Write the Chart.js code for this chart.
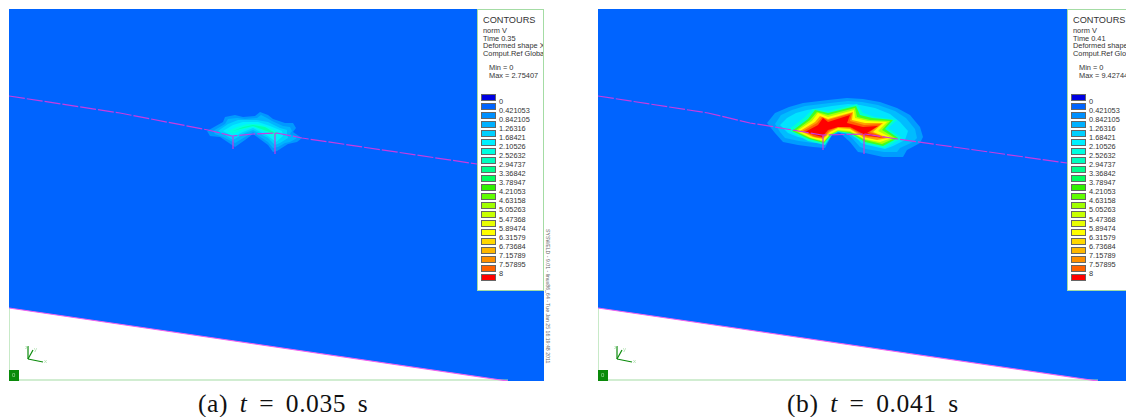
<!DOCTYPE html>
<html>
<head>
<meta charset="utf-8">
<script src="https://cdn.jsdelivr.net/npm/chart.js@4"></script>
<style>
  html, body { margin:0; padding:0; background:#fff; width:1126px; height:417px; overflow:hidden; }
  canvas { position:absolute; top:9px; }
  .panel { position:absolute; top:9px; height:280px; background:#fff; border:1px solid #a4dca4; overflow:hidden;
           font-family:"Liberation Sans",sans-serif; font-size:7.4px; line-height:9px; color:#333; }
  .panel div { position:absolute; white-space:nowrap; }
  .panel .title { font-size:9.2px; left:5px; top:5px; line-height:11px; }
  .swatch { width:13px; height:5px; left:3px; border:1px solid #666; }
  .caption { position:absolute; top:392px; font-family:"Liberation Serif",serif; font-size:25.5px; line-height:24px; color:#111;
             letter-spacing:0.6px; word-spacing:4.7px; white-space:nowrap; }
  .stamp { position:absolute; left:545px; top:229px; font-family:"Liberation Sans",sans-serif; font-size:5.2px; line-height:6px; color:#666;
           white-space:nowrap; transform-origin:0 0; transform:translate(6px,0) rotate(90deg); }
  .tag { position:absolute; font-family:"Liberation Sans",sans-serif; font-size:6px; line-height:7px; color:#a4dca4; }
</style>
</head>
<body>
<canvas id="chartA" width="535" height="372" style="left:9px"></canvas>
<canvas id="chartB" width="528" height="372" style="left:598px"></canvas>
<div class="panel" id="panelA" style="left:477px;width:65px"></div>
<div class="panel" id="panelB" style="left:1067px;width:60px"></div>
<div class="stamp">SYSWELD - 9.01 - linux86_64 - Tue Jan 25 16:19:48 2011</div>
<div class="tag" style="left:12px;top:372px">0</div>
<div class="tag" style="left:601px;top:372px">0</div>
<div class="tag" style="left:25px;top:344px">z</div>
<div class="tag" style="left:34px;top:346px">y</div>
<div class="tag" style="left:44px;top:358px">x</div>
<div class="tag" style="left:614px;top:344px">z</div>
<div class="tag" style="left:623px;top:346px">y</div>
<div class="tag" style="left:633px;top:358px">x</div>
<div class="caption" style="left:198px">(a) <i>t</i> = 0.035 s</div>
<div class="caption" style="left:787px">(b) <i>t</i> = 0.041 s</div>
<script>
const levelLabels = ["0","0.421053","0.842105","1.26316","1.68421","2.10526","2.52632","2.94737","3.36842","3.78947","4.21053","4.63158","5.05263","5.47368","5.89474","6.31579","6.73684","7.15789","7.57895","8"];
const levelColors = ["#0000e0","#0064ff","#0090ff","#00b0ff","#00d0ff","#00f0ff","#00ffe0","#00ffc0","#00ff90","#00ff60","#30f000","#60ff00","#a0ff00","#c8ff00","#e8ff00","#ffff00","#ffd800","#ffb800","#ff9000","#ff6000","#ff0000"];
const headerA = ["norm V","Time 0.35","Deformed shape X","Comput.Ref Global"];
const headerB = ["norm V","Time 0.41","Deformed shape X","Comput.Ref Global"];
const rangeA = ["Min = 0","Max = 2.75407"];
const rangeB = ["Min = 0","Max = 9.42744"];

// contour bands, outermost first
const bandColorsA = ["#0098ff","#00b4ff","#00d4ff","#00f0ff","#00ffe0","#00ffb0"];
const bandsA = [
  [[207,131],[223,122],[225,117],[235,115],[243,117],[255,116],[260,112],[268,115],[273,119],[285,123],[293,123],[296,128],[293,132],[302,138],[297,142],[288,144],[277,151],[273,152],[268,145],[253,134],[245,140],[235,147],[232,145],[220,137],[210,136]],
  [[213,131],[225,124],[228,119],[237,118],[245,119],[257,118],[261,115],[267,118],[272,121],[283,126],[290,127],[292,131],[290,134],[297,138],[290,142],[285,143],[278,147],[273,148],[268,142],[253,132],[245,137],[235,143],[223,137],[215,134]],
  [[218,131],[228,124],[238,120],[257,120],[268,122],[280,128],[287,130],[287,134],[288,138],[280,143],[275,145],[268,138],[253,130],[245,133],[233,140],[225,135]],
  [[223,131],[233,125],[243,122],[258,122],[270,126],[282,131],[283,136],[276,142],[268,136],[253,128],[243,132],[233,137],[227,133]],
  [[228,131],[237,127],[247,124],[258,124],[270,128],[278,132],[276,138],[268,133],[253,127],[242,130],[233,134]],
  [[233,131],[243,127],[253,125],[265,127],[275,133],[272,133],[253,126],[240,129]]
];
const bandColorsB = ["#009cff","#00bcff","#00e4ff","#00ffd0","#40ff20","#b0ff00","#ffff00","#ffa000","#ff6000","#ff0000"];
const bandsB = [
  [[767,123],[775,113],[789,107],[803,103],[828,100],[847,98],[863,99],[880,102],[897,108],[910,115],[920,127],[923,137],[920,143],[907,150],[903,157],[883,157],[865,153],[858,152],[850,142],[840,133],[832,135],[825,148],[813,147],[798,145],[783,142],[775,133]],
  [[775,124],[781,115],[792,110],[805,106],[830,103],[848,101],[862,102],[878,105],[895,111],[906,118],[915,129],[917,138],[913,142],[900,148],[897,152],[884,152],[866,149],[860,147],[852,138],[842,130],[832,131],[824,143],[813,143],[799,141],[785,138],[780,132]],
  [[780,125],[787,118],[796,113],[807,110],[832,106],[848,104],[860,105],[875,108],[890,114],[900,122],[908,131],[905,140],[893,146],[885,149],[867,145],[861,143],[853,134],[843,127],[832,128],[823,139],[812,140],[798,137],[788,133]],
  [[788,130],[805,117],[813,109],[828,111],[857,104],[863,113],[875,117],[897,120],[888,128],[902,138],[885,148],[865,144],[850,134],[838,132],[832,135],[825,145],[808,141]],
  [[792,131],[808,119],[815,110],[828,113],[856,106],[860,115],[872,118],[893,120],[885,129],[898,138],[883,146],[865,142],[850,133],[838,131],[831,135],[824,143],[809,139]],
  [[795,131],[810,120],[817,112],[828,115],[855,108],[857,117],[870,120],[890,121],[882,130],[895,138],[882,144],[865,140],[850,132],[838,131],[830,135],[824,142],[810,138]],
  [[797,131],[812,121],[818,113],[828,117],[854,110],[855,118],[868,121],[887,122],[878,131],[892,138],[880,142],[864,139],[850,131],[838,130],[830,134],[824,141],[811,138]],
  [[800,131],[815,122],[820,116],[828,119],[853,112],[852,120],[865,123],[883,123],[873,132],[888,138],[877,140],[863,137],[850,129],[838,128],[830,132],[823,139],[813,137]],
  [[803,131],[817,123],[822,117],[828,120],[852,113],[850,121],[864,125],[881,124],[870,132],[886,138],[871,137],[864,136],[850,128],[838,127],[829,131],[823,138],[815,137]],
  [[805,132],[818,125],[823,118],[828,122],[850,115],[847,123],[863,127],[878,126],[867,133],[883,138],[865,135],[850,127],[838,127],[828,130],[822,137]]
];

const fieldA = [[9,9],[544,9],[544,381],[508,381],[9,308]];
const fieldB = [[598,9],[1126,9],[1126,381],[1098,381],[598,308]];
const edgeA = [[9,308],[508,381]];
const edgeB = [[598,308],[1098,381]];
const frameA = [[9,308],[9,380],[508,380]];
const frameB = [[598,308],[598,380],[1098,380]];
const cutA = [[9,96],[120,113],[208,130],[232,136],[253,134],[277,133],[302,138],[477,164]];
const cutB = [[598,96],[708,113],[750,123],[775,127],[822,135],[865,134],[897,139],[1067,163]];
const legsA = [[[233,136],[233,149]],[[275,133],[275,154]]];
const legsB = [[[823,135],[823,150]],[[864,134],[864,154]]];
const triadA = [[[28,359],[28,346]],[[28,359],[43,362]],[[28,359],[33,350]]];
const triadB = [[[617,359],[617,346]],[[617,359],[632,362]],[[617,359],[622,350]]];
const badgeA = [[9,370],[19,370],[19,381],[9,381]];
const badgeB = [[598,370],[608,370],[608,381],[598,381]];

function toPoints(list) { return list.map(p => ({x:p[0], y:p[1]})); }

// Filler can't close a loop on a scatter line, so fill the polygon from the parsed points
const polygonFill = {
  id:"polygonFill",
  beforeDatasetDraw(chart, args) {
    const ds = chart.data.datasets[args.index];
    if (!ds.polygonColor) return;
    const pts = chart.getDatasetMeta(args.index).data;
    const ctx = chart.ctx;
    ctx.save();
    ctx.beginPath();
    pts.forEach((p,i) => { if (i === 0) ctx.moveTo(p.x, p.y); else ctx.lineTo(p.x, p.y); });
    ctx.closePath();
    ctx.fillStyle = ds.polygonColor;
    ctx.fill();
    ctx.restore();
  }
};

function shape(list, color) {
  return { data:toPoints(list), showLine:false, polygonColor:color, pointRadius:0 };
}
function stroke(list, color, width, dash) {
  return { data:toPoints(list), showLine:true, fill:false, borderColor:color, borderWidth:width, borderDash:dash || [], pointRadius:0, tension:0 };
}

function drawFrame(id, cfg) {
  // later entries paint on top, Chart.js draws dataset 0 last
  let sets = [];
  sets.push(shape(cfg.field, "#0064ff"));
  cfg.bands.forEach((b,i) => sets.push(shape(b, cfg.colors[i])));
  sets.push(stroke(cfg.cut, "#c83ce0", 1.2, [16,2]));
  cfg.legs.forEach(l => sets.push(stroke(l, "#c83ce0", 1.2)));
  sets.push(stroke(cfg.frame, "#a4dca4", 1.2));
  sets.push(stroke(cfg.edge, "#f060f0", 1.2));
  cfg.triad.forEach(l => sets.push(stroke(l, "#0a8a0a", 1.2)));
  sets.push(shape(cfg.badge, "#0a8a0a"));
  new Chart(document.getElementById(id), {
    type:"scatter",
    data:{ datasets:sets.reverse() },
    plugins:[polygonFill],
    options:{
      responsive:false, animation:false, events:[],
      layout:{padding:0},
      plugins:{legend:{display:false}, tooltip:{enabled:false}},
      scales:{
        x:{type:"linear", min:cfg.xMin, max:cfg.xMax, display:false},
        y:{type:"linear", min:9, max:381, reverse:true, display:false}
      }
    }
  });
}

function fillPanel(id, header, range) {
  const panel = document.getElementById(id);
  let html = '<div class="title">CONTOURS</div>';
  const headerTops = [16,24,31,38.5];
  header.forEach((t,i) => { html += `<div style="left:5px;top:${headerTops[i]}px">${t}</div>`; });
  range.forEach((t,i) => { html += `<div style="left:11px;top:${53+i*8.4}px">${t}</div>`; });
  levelColors.forEach((c,i) => { html += `<div class="swatch" style="top:${83.5+i*9.01}px;background:${c}"></div>`; });
  levelLabels.forEach((t,i) => { html += `<div style="left:21px;top:${87+i*9.04}px">${t}</div>`; });
  panel.innerHTML = html;
}

drawFrame("chartA", {xMin:9, xMax:544, field:fieldA, bands:bandsA, colors:bandColorsA, cut:cutA, legs:legsA, edge:edgeA, frame:frameA, triad:triadA, badge:badgeA});
drawFrame("chartB", {xMin:598, xMax:1126, field:fieldB, bands:bandsB, colors:bandColorsB, cut:cutB, legs:legsB, edge:edgeB, frame:frameB, triad:triadB, badge:badgeB});
fillPanel("panelA", headerA, rangeA);
fillPanel("panelB", headerB, rangeB);
</script>
</body>
</html>
